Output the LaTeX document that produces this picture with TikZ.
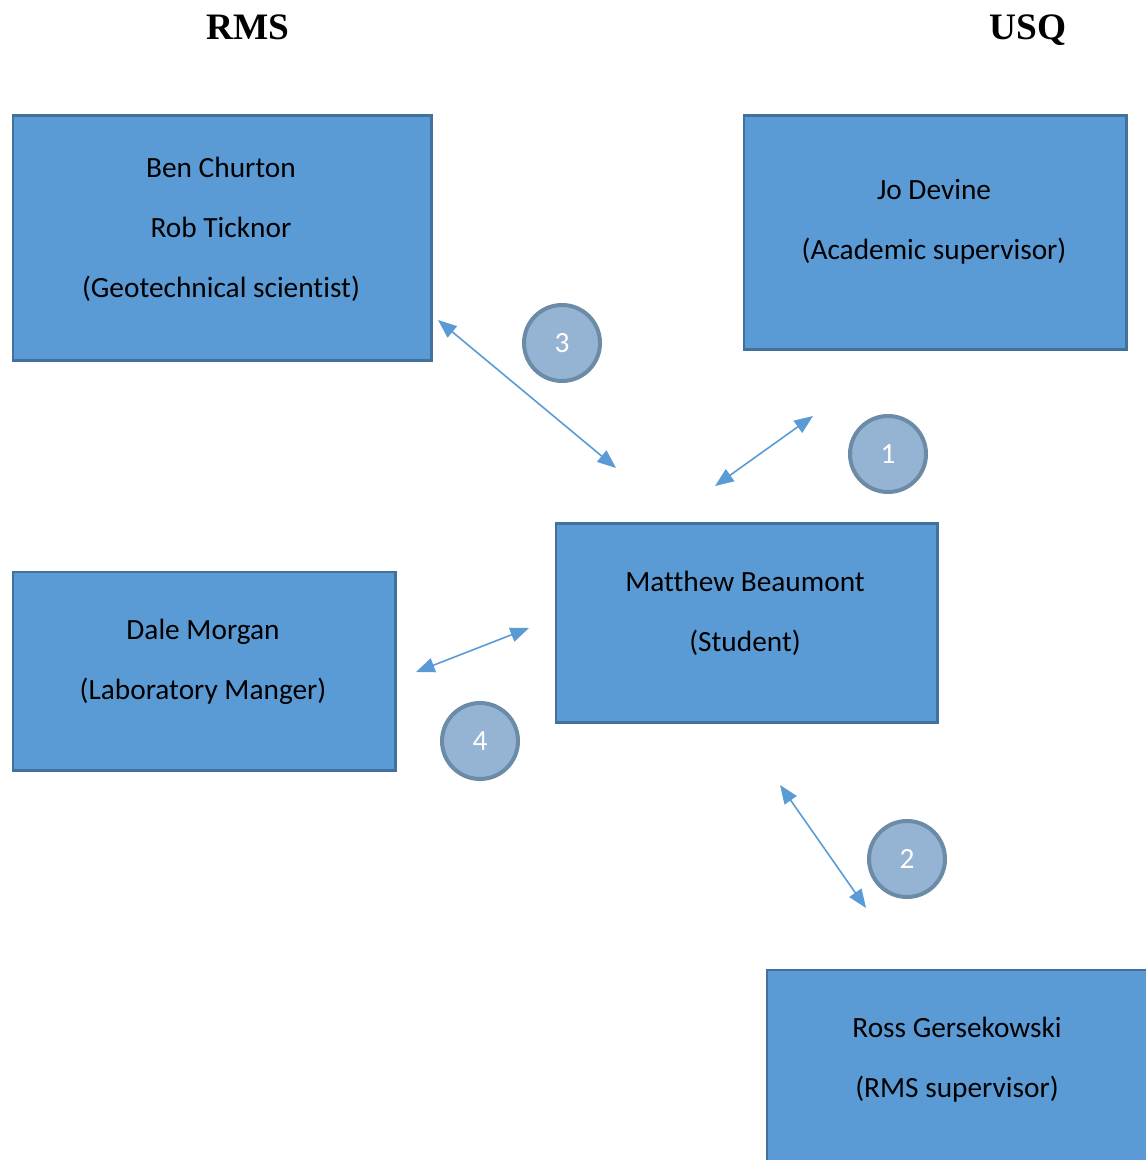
\documentclass[tikz,border=0pt]{standalone}
\usepackage{fontspec}
\setmainfont[RawFeature=-liga]{Carlito}
\newfontfamily\titlefont{Liberation Serif}
\usetikzlibrary{arrows.meta}

\definecolor{boxfill}{HTML}{5B9BD5}
\definecolor{boxline}{HTML}{41719C}
\definecolor{ballfill}{HTML}{95B3D3}
\definecolor{ballline}{HTML}{6C8BA6}

\begin{document}
\begin{tikzpicture}[x=0.375pt,y=-0.375pt,
    panel/.style={draw=boxline,fill=boxfill,line width=1.1pt,inner sep=0pt,anchor=north west},
    who/.style={align=center,font=\fontsize{11}{22.5}\selectfont},
    ball/.style={circle,draw=ballline,fill=ballfill,line width=1.5pt,minimum size=28.5pt,inner sep=0pt,
      text=white,font=\fontsize{11}{13}\selectfont},
    link/.style={draw=boxfill,line width=0.6pt,{Triangle[length=7pt,width=5.5pt]}-{Triangle[length=7pt,width=5.5pt]}},
    head/.style={anchor=base,font=\titlefont\bfseries\fontsize{14}{16}\selectfont}]
  \useasboundingbox (0,0) rectangle (1145,1160);

  % headings
  \node[head] (rms) at (248,40) {RMS};
  \node[head] (usq) at (1028,40) {USQ};

  % people
  \node[panel,minimum width=156.8pt,minimum height=91.8pt] (ben) at (11.5,114.5) {};
  \node[who] (bentext) at (221,229) {Ben Churton\\Rob Ticknor\\(Geotechnical scientist)};

  \node[panel,minimum width=143.3pt,minimum height=87.6pt] (jo) at (742.5,114.5) {};
  \node[who] (jotext) at (934,222) {Jo Devine\\(Academic supervisor)};

  \node[panel,minimum width=143.2pt,minimum height=74.6pt] (matt) at (554.5,522.5) {};
  \node[who] (matttext) at (745,613) {Matthew Beaumont\\(Student)};

  \node[panel,minimum width=143.3pt,minimum height=74.6pt] (dale) at (11.5,570.5) {};
  \node[who] (daletext) at (203,662) {Dale Morgan\\(Laboratory Manger)};

  \node[panel,minimum width=143.3pt,minimum height=74.6pt] (ross) at (765.5,968.5) {};
  \node[who] (rosstext) at (957,1060) {Ross Gersekowski\\(RMS supervisor)};

  % numbered links
  \node[ball] (n1) at (888,454) {1};
  \node[ball] (n2) at (907,859) {2};
  \node[ball] (n3) at (562,343) {3};
  \node[ball] (n4) at (480,741) {4};

  \coordinate (a1) at (715,486); \coordinate (b1) at (813,416);
  \coordinate (a2) at (780,785); \coordinate (b2) at (866,908);
  \coordinate (a3) at (438,320); \coordinate (b3) at (616,468);
  \coordinate (a4) at (416,672); \coordinate (b4) at (529,628);
  \foreach \i in {1,...,4}
    \draw[link] (a\i) -- (b\i);
\end{tikzpicture}
\end{document}
